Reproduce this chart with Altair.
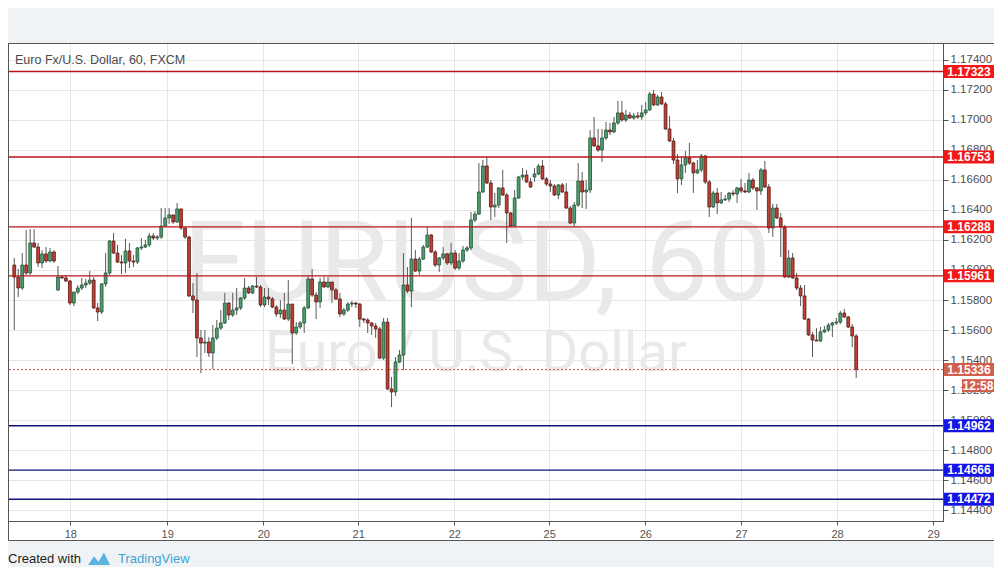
import altair as alt
import pandas as pd

# ---------------- data (EUR/USD, 60 min, FXCM) ----------------
open_ = [1.16033,1.15953,1.15880,1.16033,1.15980,1.16180,1.16153,1.16047,1.16107,1.16060,
         1.16120,1.15867,1.15953,1.15947,1.15927,1.15780,1.15853,1.15880,1.15900,1.15913,
         1.15933,1.15747,1.15720,1.15907,1.15980,1.16193,1.16113,1.16053,1.16047,1.16127,
         1.16060,1.16053,1.16147,1.16153,1.16167,1.16227,1.16213,1.16220,1.16293,1.16347,
         1.16367,1.16320,1.16407,1.16280,1.16220,1.15827,1.15800,1.15547,1.15513,1.15520,
         1.15447,1.15547,1.15613,1.15647,1.15780,1.15700,1.15733,1.15747,1.15813,1.15880,
         1.15847,1.15893,1.15887,1.15767,1.15820,1.15807,1.15753,1.15707,1.15733,1.15673,
         1.15773,1.15580,1.15620,1.15647,1.15747,1.15940,1.15833,1.15787,1.15920,1.15887,
         1.15920,1.15867,1.15807,1.15707,1.15733,1.15773,1.15780,1.15773,1.15673,1.15667,
         1.15647,1.15627,1.15607,1.15413,1.15653,1.15207,1.15187,1.15387,1.15433,1.15900,
         1.15860,1.16073,1.15993,1.16073,1.16153,1.16233,1.16120,1.16033,1.16080,1.16107,
         1.16047,1.16113,1.16013,1.16060,1.16133,1.16147,1.16333,1.16373,1.16520,1.16693,
         1.16580,1.16420,1.16433,1.16547,1.16500,1.16380,1.16293,1.16480,1.16620,1.16633,
         1.16587,1.16620,1.16640,1.16693,1.16607,1.16573,1.16560,1.16500,1.16567,1.16520,
         1.16413,1.16313,1.16433,1.16593,1.16520,1.16533,1.16880,1.16827,1.16800,1.16880,
         1.16933,1.16920,1.16980,1.17047,1.17000,1.17033,1.17013,1.17027,1.17020,1.17047,
         1.17067,1.17173,1.17100,1.17153,1.17107,1.16940,1.16860,1.16733,1.16607,1.16700,
         1.16747,1.16713,1.16647,1.16667,1.16760,1.16587,1.16420,1.16513,1.16447,1.16467,
         1.16473,1.16513,1.16507,1.16547,1.16527,1.16520,1.16600,1.16547,1.16527,1.16667,
         1.16553,1.16280,1.16413,1.16347,1.16287,1.15953,1.16080,1.15947,1.15880,1.15827,
         1.15673,1.15567,1.15533,1.15527,1.15587,1.15600,1.15633,1.15647,1.15653,1.15713,
         1.15687,1.15620,1.15560]
high = [1.16080,1.16007,1.16113,1.16267,1.16273,1.16273,1.16180,1.16133,1.16153,1.16147,
        1.16133,1.16027,1.15967,1.15967,1.15933,1.15853,1.15900,1.15947,1.15940,1.15993,
        1.15953,1.15780,1.15913,1.16113,1.16200,1.16247,1.16167,1.16100,1.16207,1.16180,
        1.16100,1.16153,1.16213,1.16200,1.16247,1.16247,1.16233,1.16413,1.16413,1.16413,
        1.16367,1.16447,1.16407,1.16280,1.16227,1.15913,1.15980,1.15600,1.15600,1.15553,
        1.15633,1.15667,1.15733,1.15847,1.15787,1.15847,1.15880,1.15820,1.15947,1.15893,
        1.15900,1.15953,1.15900,1.15880,1.15880,1.15820,1.15767,1.15800,1.15847,1.15933,
        1.15773,1.15653,1.15660,1.15760,1.15960,1.16007,1.15853,1.15947,1.15953,1.15953,
        1.15920,1.15880,1.15847,1.15747,1.15787,1.15793,1.15787,1.15780,1.15680,1.15680,
        1.15653,1.15647,1.15620,1.15680,1.15680,1.15287,1.15420,1.15467,1.16113,1.16020,
        1.16347,1.16133,1.16087,1.16167,1.16287,1.16240,1.16133,1.16087,1.16153,1.16113,
        1.16180,1.16133,1.16113,1.16160,1.16160,1.16387,1.16393,1.16713,1.16733,1.16753,
        1.16600,1.16513,1.16553,1.16667,1.16513,1.16387,1.16533,1.16627,1.16680,1.16667,
        1.16613,1.16680,1.16707,1.16733,1.16620,1.16600,1.16573,1.16573,1.16580,1.16580,
        1.16427,1.16453,1.16713,1.16653,1.16600,1.16933,1.17020,1.16940,1.16940,1.16987,
        1.16980,1.17020,1.17127,1.17127,1.17067,1.17053,1.17047,1.17053,1.17100,1.17120,
        1.17187,1.17200,1.17167,1.17187,1.17120,1.17027,1.16880,1.16773,1.16753,1.16793,
        1.16847,1.16720,1.16733,1.16773,1.16767,1.16600,1.16527,1.16547,1.16520,1.16500,
        1.16520,1.16533,1.16553,1.16607,1.16580,1.16647,1.16613,1.16553,1.16680,1.16727,
        1.16573,1.16440,1.16440,1.16380,1.16300,1.16133,1.16113,1.15980,1.15900,1.15900,
        1.15680,1.15587,1.15613,1.15620,1.15627,1.15647,1.15653,1.15680,1.15727,1.15740,
        1.15693,1.15640,1.15573]
low = [1.15600,1.15820,1.15867,1.15967,1.15967,1.16147,1.16020,1.16013,1.16047,1.16053,
       1.16047,1.15860,1.15940,1.15920,1.15767,1.15760,1.15840,1.15867,1.15880,1.15900,
       1.15740,1.15660,1.15707,1.15887,1.15967,1.16107,1.16047,1.15973,1.15980,1.16013,
       1.16020,1.16040,1.16133,1.16147,1.16153,1.16200,1.16200,1.16207,1.16287,1.16307,
       1.16307,1.16313,1.16267,1.16207,1.15820,1.15713,1.15420,1.15313,1.15447,1.15420,
       1.15340,1.15533,1.15600,1.15640,1.15667,1.15687,1.15700,1.15733,1.15800,1.15840,
       1.15840,1.15880,1.15753,1.15753,1.15767,1.15747,1.15687,1.15680,1.15667,1.15660,
       1.15373,1.15567,1.15607,1.15580,1.15740,1.15820,1.15673,1.15747,1.15880,1.15880,
       1.15780,1.15800,1.15687,1.15693,1.15720,1.15753,1.15747,1.15620,1.15647,1.15580,
       1.15567,1.15547,1.15407,1.15400,1.15200,1.15087,1.15160,1.15380,1.15333,1.15847,
       1.15753,1.15987,1.15967,1.16067,1.16147,1.16113,1.16020,1.15987,1.16067,1.16033,
       1.16033,1.16000,1.16000,1.16047,1.16120,1.16133,1.16320,1.16367,1.16513,1.16573,
       1.16333,1.16353,1.16413,1.16493,1.16180,1.16287,1.16287,1.16473,1.16600,1.16580,
       1.16547,1.16587,1.16633,1.16600,1.16560,1.16520,1.16493,1.16473,1.16513,1.16407,
       1.16307,1.16293,1.16420,1.16413,1.16407,1.16513,1.16820,1.16787,1.16720,1.16867,
       1.16900,1.16913,1.16967,1.16987,1.16987,1.17007,1.17000,1.17007,1.17000,1.17033,
       1.17060,1.17093,1.17093,1.17100,1.16933,1.16853,1.16707,1.16513,1.16567,1.16647,
       1.16700,1.16513,1.16640,1.16653,1.16573,1.16353,1.16413,1.16373,1.16440,1.16460,
       1.16453,1.16493,1.16447,1.16513,1.16513,1.16513,1.16533,1.16400,1.16500,1.16547,
       1.16247,1.16220,1.16340,1.16087,1.15947,1.15947,1.15940,1.15867,1.15760,1.15667,
       1.15560,1.15420,1.15527,1.15520,1.15580,1.15587,1.15553,1.15633,1.15640,1.15680,
       1.15613,1.15487,1.15280]
close = [1.15953,1.15880,1.16033,1.15980,1.16180,1.16153,1.16047,1.16107,1.16060,1.16120,
         1.16060,1.15953,1.15947,1.15927,1.15780,1.15853,1.15880,1.15900,1.15913,1.15933,
         1.15747,1.15720,1.15907,1.15980,1.16193,1.16113,1.16053,1.16047,1.16127,1.16060,
         1.16053,1.16147,1.16153,1.16167,1.16227,1.16213,1.16220,1.16293,1.16347,1.16367,
         1.16320,1.16407,1.16280,1.16220,1.15827,1.15800,1.15547,1.15513,1.15520,1.15447,
         1.15547,1.15613,1.15647,1.15780,1.15700,1.15733,1.15747,1.15813,1.15880,1.15847,
         1.15893,1.15887,1.15767,1.15820,1.15807,1.15753,1.15707,1.15733,1.15673,1.15773,
         1.15580,1.15620,1.15647,1.15747,1.15940,1.15833,1.15787,1.15920,1.15887,1.15920,
         1.15867,1.15807,1.15707,1.15733,1.15773,1.15780,1.15773,1.15673,1.15667,1.15647,
         1.15627,1.15607,1.15413,1.15653,1.15207,1.15187,1.15387,1.15433,1.15900,1.15860,
         1.16073,1.15993,1.16073,1.16153,1.16233,1.16120,1.16033,1.16080,1.16107,1.16047,
         1.16113,1.16013,1.16060,1.16133,1.16147,1.16333,1.16373,1.16520,1.16693,1.16580,
         1.16420,1.16433,1.16547,1.16500,1.16380,1.16293,1.16480,1.16620,1.16633,1.16587,
         1.16553,1.16640,1.16693,1.16607,1.16573,1.16560,1.16500,1.16567,1.16520,1.16413,
         1.16313,1.16433,1.16593,1.16520,1.16533,1.16880,1.16827,1.16800,1.16880,1.16933,
         1.16920,1.16980,1.17047,1.17000,1.17033,1.17013,1.17027,1.17020,1.17047,1.17067,
         1.17173,1.17100,1.17153,1.17107,1.16940,1.16860,1.16733,1.16607,1.16700,1.16747,
         1.16713,1.16647,1.16667,1.16760,1.16587,1.16420,1.16513,1.16447,1.16467,1.16473,
         1.16513,1.16507,1.16547,1.16527,1.16520,1.16600,1.16547,1.16527,1.16667,1.16553,
         1.16280,1.16413,1.16347,1.16287,1.15953,1.16080,1.15947,1.15880,1.15827,1.15673,
         1.15567,1.15533,1.15527,1.15587,1.15600,1.15633,1.15647,1.15653,1.15713,1.15687,
         1.15620,1.15560,1.15336]

day_labels = ["18", "19", "20", "21", "22", "25", "26", "27", "28", "29"]
day_pos = [14.1, 38.5, 62.7, 86.6, 110.8, 134.7, 158.9, 183.0, 207.2, 231.4]
price_ticks = [1.144, 1.146, 1.148, 1.150, 1.152, 1.154, 1.156, 1.158,
               1.160, 1.162, 1.164, 1.166, 1.168, 1.170, 1.172, 1.174]
resistance = [1.17323, 1.16753, 1.16288, 1.15961]
support = [1.14962, 1.14666, 1.14472]
last_price = 1.15336
countdown = "12:58"
symbol_title = "Euro Fx/U.S. Dollar, 60, FXCM"
watermark_big = "EURUSD, 60"
watermark_small = "Euro / U.S. Dollar"

# ---------------- layout ----------------
W, H = 935, 478
FONT = "Liberation Sans"
UP_FILL, UP_LINE = "#4f9e70", "#1f4f33"
DN_FILL, DN_LINE = "#c13f37", "#571810"

df = pd.DataFrame({"i": range(len(close)), "o": open_, "h": high, "l": low, "c": close})
up = df["c"] >= df["o"]
df["fill"] = up.map({True: UP_FILL, False: DN_FILL})
df["line"] = up.map({True: UP_LINE, False: DN_LINE})

levels = pd.DataFrame({
    "p": resistance + support,
    "lc": ["#b8141c"] * len(resistance) + ["#12127a"] * len(support),
    "bc": ["#f21818"] * len(resistance) + ["#1414e6"] * len(support),
})
last_df = pd.DataFrame({"p": [last_price], "t": [countdown]})
one = pd.DataFrame({"k": [0]})

xs = alt.Scale(domain=[-0.32, 232.6], nice=False, zero=False)
ys = alt.Scale(domain=[1.14327, 1.17513], nice=False, zero=False)

label_expr = "[" + ",".join(f"'{d}'" for d in day_labels) + "][indexof([" + \
    ",".join(str(v) for v in day_pos) + "], datum.value)]"

x_axis = alt.Axis(values=day_pos, labelExpr=label_expr, grid=True, gridColor="#e6e6e6",
                  labelColor="#555555", labelFontSize=11, labelFont=FONT, labelPadding=3,
                  tickSize=4, tickColor="#555555", domainColor="#555555",
                  labelFlush=False, labelOverlap=False, title=None)
y_axis = alt.Axis(orient="right", values=price_ticks, format=".5f", grid=True,
                  gridColor="#e6e6e6", labelColor="#4d4d4d", labelFontSize=11.5,
                  labelFont=FONT, labelPadding=2, tickSize=5, tickColor="#555555",
                  domainColor="#555555", labelOverlap=False, labelFlush=False, title=None)


def X(field):
    return alt.X(field, scale=xs, axis=x_axis)


def Y(field):
    return alt.Y(field, scale=ys, axis=y_axis)


base = alt.Chart(df)

header = alt.Chart(one).mark_rect(color="#f0f3f5").encode(
    x=alt.value(0), x2=alt.value(W + 51), y=alt.value(-35), y2=alt.value(0))
footer = alt.Chart(one).mark_rect(color="#f0f3f5").encode(
    x=alt.value(0), x2=alt.value(W + 51), y=alt.value(H + 19), y2=alt.value(H + 46))

wm1 = alt.Chart(one).mark_text(text=watermark_big, font="Roboto", fontSize=112,
                               color="#e9e9e9", align="center", baseline="alphabetic").encode(
    x=alt.value(469), y=alt.value(257))
wm2 = alt.Chart(one).mark_text(text=watermark_small, font="Roboto", fontSize=56,
                               color="#e9e9e9", align="center", baseline="alphabetic").encode(
    x=alt.value(468), y=alt.value(328))

wicks = base.mark_rule(color="#5a5a5a", strokeWidth=1).encode(
    x=X("i:Q"), y=Y("l:Q"), y2="h:Q")
bodies = base.mark_bar(size=2.8, strokeWidth=0.8).encode(
    x=X("i:Q"), y=Y("o:Q"), y2="c:Q",
    fill=alt.Fill("fill:N", scale=None),
    stroke=alt.Stroke("line:N", scale=None))

level_rules = alt.Chart(levels).mark_rule(strokeWidth=1.3).encode(
    y=Y("p:Q"), color=alt.Color("lc:N", scale=None))
last_rule = alt.Chart(last_df).mark_rule(strokeWidth=1, strokeDash=[2, 2], color="#c8563f").encode(
    y=Y("p:Q"))

title = alt.Chart(one).mark_text(text=symbol_title, font=FONT, fontSize=12.5, color="#4b4b4b",
                                 align="left", baseline="middle").encode(
    x=alt.value(7), y=alt.value(17))

boxes = alt.Chart(levels).mark_rect(yOffset=-6.5, y2Offset=6.5).encode(
    x=alt.value(W + 1), x2=alt.value(W + 51),
    y=Y("p:Q"), y2="p:Q",
    color=alt.Color("bc:N", scale=None))
box_text = alt.Chart(levels).mark_text(font=FONT, fontSize=12, fontWeight="bold", color="white",
                                       align="center", baseline="middle").encode(
    x=alt.value(W + 26), y=Y("p:Q"),
    text=alt.Text("p:Q", format=".5f"))
last_box = alt.Chart(last_df).mark_rect(color="#d2604e", yOffset=-6.5, y2Offset=6.5).encode(
    x=alt.value(W + 1), x2=alt.value(W + 51),
    y=Y("p:Q"), y2="p:Q")
last_text = alt.Chart(last_df).mark_text(font=FONT, fontSize=12, fontWeight="bold", color="white",
                                         align="center", baseline="middle").encode(
    x=alt.value(W + 26), y=Y("p:Q"),
    text=alt.Text("p:Q", format=".5f"))
cd_box = alt.Chart(last_df).mark_rect(color="#d2604e", yOffset=9.5, y2Offset=22.5).encode(
    x=alt.value(W + 19), x2=alt.value(W + 51),
    y=Y("p:Q"), y2="p:Q")
cd_text = alt.Chart(last_df).mark_text(font=FONT, fontSize=12, fontWeight="bold", color="white",
                                       align="center", baseline="middle", dy=16).encode(
    x=alt.value(W + 35), y=Y("p:Q"), text="t:N")

border = alt.Chart(one).mark_rect(fillOpacity=0, stroke="#555555", strokeWidth=1).encode(
    x=alt.value(0.5), x2=alt.value(W + 56), y=alt.value(0.5), y2=alt.value(H + 19.5))

created = alt.Chart(one).mark_text(text="Created with", font=FONT, fontSize=13, color="#222222",
                                   align="left", baseline="middle").encode(
    x=alt.value(0), y=alt.value(H + 38))
icon = alt.Chart(one).mark_point(
    shape="M-1,0.55 L-0.45,-0.25 L-0.05,0.25 L0.45,-0.6 L1,0.55 Z",
    size=484, filled=True, color="#5cb3df", opacity=1).encode(
    x=alt.value(91), y=alt.value(H + 38))
tv = alt.Chart(one).mark_text(text="TradingView", font=FONT, fontSize=13, color="#3ea3d6",
                              align="left", baseline="middle").encode(
    x=alt.value(110), y=alt.value(H + 38))

chart = alt.layer(
    header, footer, wm1, wm2, wicks, bodies, level_rules, last_rule, title,
    boxes, box_text, last_box, last_text, cd_box, cd_text, border, created, icon, tv
).properties(
    width=W, height=H,
    autosize=alt.AutoSizeParams(type="none"),
    padding={"left": 0, "top": 35, "right": 51, "bottom": 46},
    background="white",
).configure_view(
    fill="white", stroke="#555555", strokeWidth=1
)

chart.save("out.html", embed_options={"renderer": "svg", "actions": False})
